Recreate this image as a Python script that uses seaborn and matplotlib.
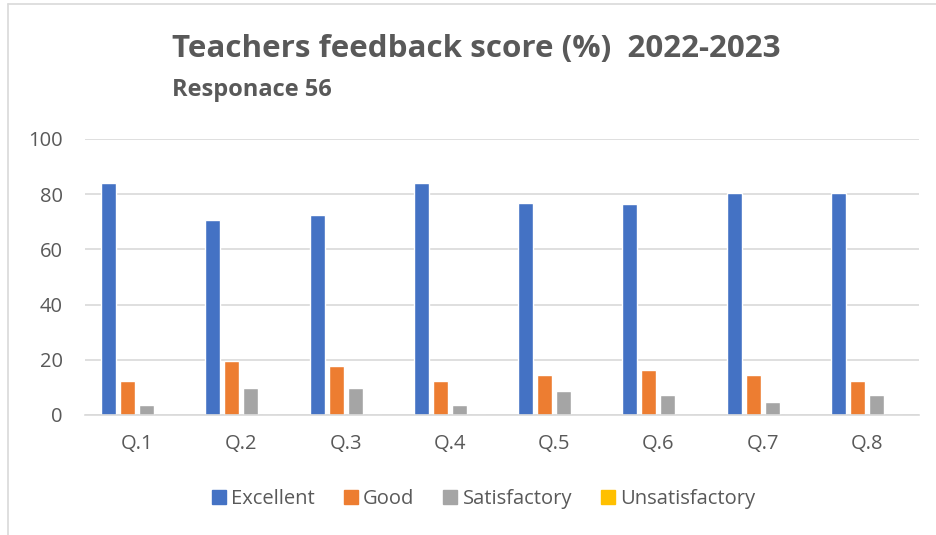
import matplotlib
matplotlib.use("Agg")
import matplotlib.pyplot as plt
import seaborn as sns
import pandas as pd
from matplotlib.lines import Line2D

questions = ["Q.1", "Q.2", "Q.3", "Q.4", "Q.5", "Q.6", "Q.7", "Q.8"]
series = ["Excellent", "Good", "Satisfactory", "Unsatisfactory"]
excellent = [83.9, 70.8, 72.4, 84.1, 76.8, 76.3, 80.6, 80.3]
good = [12.5, 19.4, 17.8, 12.3, 14.5, 16.3, 14.4, 12.5]
satisfactory = [3.6, 9.8, 9.8, 3.6, 8.7, 7.2, 4.8, 7.1]
unsatisfactory = [0, 0, 0, 0, 0, 0, 0, 0]
colors = ["#4472C4", "#ED7D31", "#A5A5A5", "#FFC000"]

rows = []
for name, vals in zip(series, [excellent, good, satisfactory, unsatisfactory]):
    for q, v in zip(questions, vals):
        rows.append({"Question": q, "Rating": name, "Score": v})
df = pd.DataFrame(rows)

sns.set_theme(style="white")
plt.rcParams["font.family"] = ["Open Sans", "DejaVu Sans"]

fig = plt.figure(figsize=(9.36, 5.35), dpi=100)
ax = fig.add_axes([85 / 936, 1 - 415 / 535, (919 - 85) / 936, (415 - 139) / 535])

sns.barplot(data=df, x="Question", y="Score", hue="Rating", order=questions,
            hue_order=series, palette=colors, width=0.73, gap=0.21,
            saturation=1, ax=ax, legend=False)

ax.set_ylim(0, 100)
ax.set_xlim(-0.5, len(questions) - 0.5)
ax.set_yticks([0, 20, 40, 60, 80, 100])
ax.yaxis.grid(True, color="#D9D9D9", linewidth=1.2)
ax.set_axisbelow(True)
for s in ["top", "right", "left"]:
    ax.spines[s].set_visible(False)
ax.spines["bottom"].set_color("#D9D9D9")
ax.spines["bottom"].set_linewidth(1.2)
ax.tick_params(axis="both", length=0, labelsize=14.5, labelcolor="#595959")
ax.tick_params(axis="y", pad=16)
ax.tick_params(axis="x", pad=14)
ax.set_xlabel("")
ax.set_ylabel("")

fig.text(172 / 936, 1 - 49 / 535, "Teachers feedback score (%)  2022-2023",
         fontsize=22.6, fontweight="bold", color="#595959", va="center", ha="left")
fig.text(172 / 936, 1 - 90 / 535, "Responace 56",
         fontsize=17, fontweight="bold", color="#595959", va="center", ha="left")

handles = [Line2D([0], [0], marker="s", linestyle="none", markersize=10,
                  markerfacecolor=c, markeredgecolor=c) for c in colors]
fig.legend(handles, series, loc="center", bbox_to_anchor=(482 / 936, 1 - 499 / 535),
           ncol=4, frameon=False, fontsize=14.5, labelcolor="#595959",
           handletextpad=0.1, columnspacing=1.3, handlelength=1.0)

fig.add_artist(Line2D([8 / 936, 8 / 936], [0, 1 - 4 / 535], color="#D9D9D9",
                      linewidth=1.2, transform=fig.transFigure))
fig.add_artist(Line2D([8 / 936, 1], [1 - 4 / 535, 1 - 4 / 535], color="#D9D9D9",
                      linewidth=1.2, transform=fig.transFigure))

fig.savefig("out.png", dpi=100)
